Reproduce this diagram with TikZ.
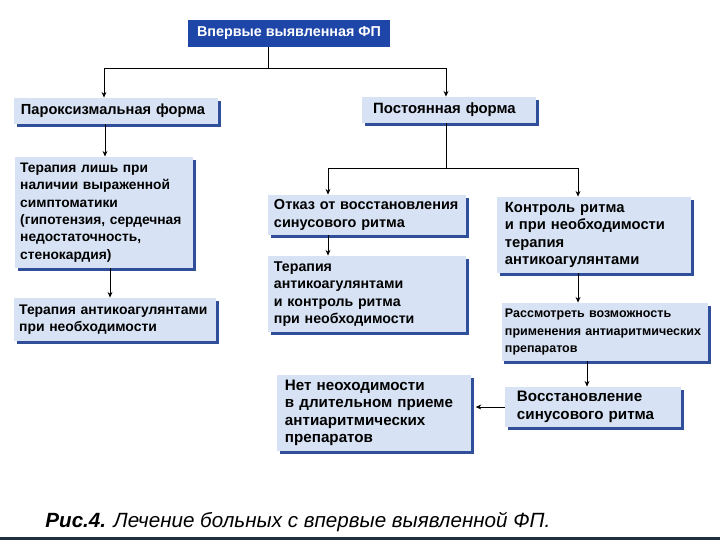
\documentclass[tikz,border=0pt]{standalone}
\usepackage{fontspec}
\setmainfont{Liberation Sans}
\usepackage{xcolor}
\usepackage{tikz}
\usetikzlibrary{arrows.meta,shadows}
\definecolor{fptop}{HTML}{1E45A8}
\definecolor{fplight}{HTML}{D7E3F4}
\definecolor{fpedge}{HTML}{2F4F9A}
\definecolor{fpnavy}{HTML}{1F2F3F}

\begin{document}
\begin{tikzpicture}[x=0.025cm,y=-0.025cm,
  fpbox/.style n args={3}{fill=fplight,text width=#1,minimum height=#2,inner xsep=0.2cm,inner ysep=0pt,
    align=left,font=\bfseries\fontsize{#3}{12.4}\selectfont,
    drop shadow={shadow xshift=1.8pt,shadow yshift=-1.8pt,fill=fpedge,opacity=1}},
  fparrow/.style={-{Stealth[length=4pt,width=3.5pt]}},
  every path/.style={line width=0.6pt}]
  \useasboundingbox (0,0) rectangle (720,540);
  \node[fill=fptop,text=white,minimum width=5.05cm,minimum height=0.675cm,inner sep=0pt,
    font=\bfseries\fontsize{10.2}{12}\selectfont] (top) at (289,33.5) {Впервые выявленная ФП};
  \node[fpbox={4.75cm}{0.65cm}{10.4},inner xsep=0.175cm] (parox) at (116,111) {Пароксизмальная форма};
  \node[fpbox={3.79cm}{0.65cm}{10.6},inner xsep=0.28cm] (post) at (449,110) {Постоянная форма};
  \node[fpbox={4.19cm}{2.775cm}{9.8},inner xsep=0.13cm] (sympt) at (104,212.5) {Терапия лишь при\\наличии выраженной\\симптоматики\\(гипотензия, сердечная\\недостаточность,\\стенокардия)};
  \node[fpbox={4.79cm}{1.075cm}{9.9},inner xsep=0.13cm] (anticoag) at (115,319.5) {Терапия антикоагулянтами\\при необходимости};
  \node[fpbox={4.65cm}{1.0cm}{10.3},inner xsep=0.15cm] (refuse) at (367,215) {Отказ от восстановления\\синусового ритма};
  \node[fpbox={4.65cm}{1.9cm}{10.1},inner xsep=0.15cm] (ratectl) at (367,294) {Терапия\\антикоагулянтами\\и контроль ритма\\при необходимости};
  \node[fpbox={4.45cm}{1.9cm}{10.5}] (rhythm) at (594,235) {Контроль ритма\\и при необходимости\\терапия\\антикоагулянтами};
  \node[fpbox={5.0cm}{1.45cm}{8.9},inner xsep=0.08cm] (antiarr) at (605,332) {Рассмотреть возможность\\применения антиаритмических\\препаратов};
  \node[fpbox={3.8cm}{1.0cm}{10.8},inner xsep=0.3cm] (restore) at (593,407) {Восстановление\\синусового ритма};
  \node[fpbox={4.45cm}{1.9cm}{10.8}] (nolong) at (374,413) {Нет неоходимости\\в длительном приеме\\антиаритмических\\препаратов};
  % connectors
  \coordinate (jtop) at (268,68);
  \coordinate (jl) at (104,68);
  \coordinate (jr) at (446,68);
  \draw (top.south -| jtop) -- (jtop);
  \draw (jl) -- (jr);
  \draw[fparrow] (jl) -- (jl |- parox.north);
  \draw[fparrow] (jr) -- (jr |- post.north);
  \draw[fparrow] ([xshift=-0.275cm]parox.south) -- ([xshift=-0.275cm]parox.south |- sympt.north);
  \draw[fparrow] ([xshift=0.15cm]sympt.south) -- ([xshift=0.15cm]sympt.south |- anticoag.north);
  \coordinate (jp) at (446,168);
  \coordinate (jpl) at (328,168);
  \coordinate (jpr) at (578,168);
  \draw (post.south -| jp) -- (jp);
  \draw (jpl) -- (jpr);
  \draw[fparrow] (jpl) -- (jpl |- refuse.north);
  \draw[fparrow] (jpr) -- (jpr |- rhythm.north);
  \draw[fparrow] (refuse.south -| jpl) -- (ratectl.north -| jpl);
  \draw[fparrow] (rhythm.south -| jpr) -- (antiarr.north -| jpr);
  \draw[fparrow] ([xshift=-0.45cm]antiarr.south) -- ([xshift=-0.45cm]antiarr.south |- restore.north);
  \draw[fparrow,shorten >=3pt] (restore.west) -- (restore.west -| nolong.east);
  % caption
  \node[anchor=base west,inner sep=0pt,font=\fontsize{14.65}{18}\selectfont] (cap) at (45,527)
    {\textbf{\textit{Рис.4.}} \textit{Лечение больных с впервые выявленной ФП.}};
  \draw[fpnavy,line width=2pt] (0,538.5) -- (720,538.5);
\end{tikzpicture}
\end{document}
